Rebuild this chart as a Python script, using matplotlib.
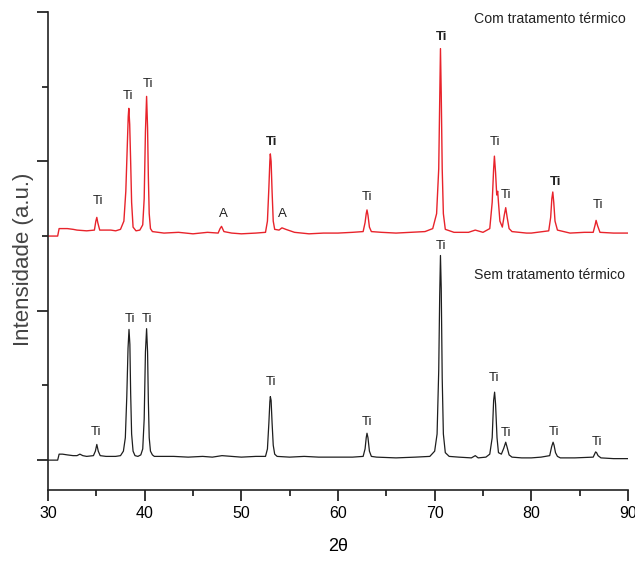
import matplotlib
matplotlib.use("Agg")
import matplotlib.pyplot as plt
from matplotlib.ticker import MultipleLocator

plt.rcParams['font.family'] = ['Liberation Sans', 'DejaVu Sans']

# ---- data ----
# untreated sample (black)
sem_x = [30.0, 31.0, 31.15, 31.5, 32.0, 32.6, 33.0, 33.3, 33.6, 34.0, 34.7, 34.9, 35.05, 35.2, 35.4, 36.0,
         37.0, 37.5, 37.8, 38.0, 38.15, 38.28, 38.38, 38.47, 38.55, 38.65, 38.8, 39.0, 39.3, 39.6,
         39.8, 39.95, 40.08, 40.2, 40.3, 40.38, 40.47, 40.6, 40.8, 41.0, 42.0, 43.0, 44.5, 46.0,
         47.0, 48.0, 50.0, 51.5, 52.5, 52.7, 52.85, 52.95, 53.0, 53.08, 53.18, 53.3, 53.45, 53.7,
         55.0, 56.5, 58.0, 60.0, 61.5, 62.6, 62.8, 62.92, 63.0, 63.1, 63.25, 63.45, 64.0, 66.0,
         68.0, 69.5, 70.0, 70.25, 70.42, 70.52, 70.6, 70.68, 70.78, 70.9, 71.1, 71.5, 72.5, 73.8,
         74.2, 74.5, 75.3, 75.7, 75.95, 76.1, 76.2, 76.3, 76.45, 76.6, 76.9, 77.15, 77.35, 77.5,
         77.7, 78.0, 79.0, 80.0, 81.0, 81.9, 82.1, 82.25, 82.35, 82.5, 82.7, 83.0, 84.5, 86.4,
         86.65, 86.75, 86.9, 87.2, 88.5, 90.0]
sem_y = [0.0, 0.0, 0.08, 0.08, 0.07, 0.06, 0.06, 0.08, 0.06, 0.05, 0.06, 0.12, 0.21, 0.12, 0.06, 0.05,
         0.05, 0.06, 0.12, 0.3, 0.85, 1.5, 1.75, 1.55, 0.9, 0.35, 0.12, 0.06, 0.05, 0.07,
         0.15, 0.55, 1.45, 1.76, 1.45, 0.8, 0.3, 0.12, 0.07, 0.05, 0.05, 0.05, 0.04, 0.05,
         0.04, 0.06, 0.04, 0.05, 0.05, 0.15, 0.5, 0.78, 0.85, 0.8, 0.5, 0.2, 0.08, 0.05,
         0.04, 0.05, 0.04, 0.04, 0.04, 0.05, 0.15, 0.3, 0.36, 0.3, 0.12, 0.05, 0.04, 0.03,
         0.04, 0.05, 0.12, 0.35, 1.2, 2.2, 2.74, 2.3, 1.1, 0.35, 0.1, 0.05, 0.04, 0.03,
         0.06, 0.03, 0.04, 0.08, 0.3, 0.8, 0.91, 0.75, 0.3, 0.1, 0.08, 0.16, 0.24, 0.17,
         0.07, 0.04, 0.03, 0.03, 0.04, 0.06, 0.18, 0.24, 0.2, 0.1, 0.05, 0.03, 0.03, 0.04,
         0.11, 0.1, 0.06, 0.03, 0.02, 0.02]

# heat-treated sample (red)
com_x = [30.0, 31.0, 31.15, 32.0, 32.6, 33.0, 34.0, 34.8, 34.95, 35.05, 35.15, 35.35, 36.5, 37.0,
         37.5, 37.85, 38.05, 38.2, 38.3, 38.36, 38.45, 38.55, 38.65, 38.8, 39.1, 39.5, 39.8, 39.95,
         40.08, 40.2, 40.3, 40.38, 40.47, 40.6, 40.8, 42.0, 43.5, 45.0, 46.5, 47.6, 47.8, 47.95,
         48.2, 49.0, 50.0, 51.5, 52.5, 52.7, 52.85, 52.95, 53.0, 53.08, 53.18, 53.3, 53.45, 53.9,
         54.2, 54.6, 55.5, 57.0, 58.5, 60.0, 61.5, 62.6, 62.8, 62.92, 63.0, 63.1, 63.25, 63.45,
         64.5, 66.0, 67.5, 69.0, 69.8, 70.2, 70.42, 70.52, 70.6, 70.68, 70.78, 70.9, 71.1, 72.0,
         73.5, 74.2, 75.0, 75.7, 75.95, 76.1, 76.18, 76.3, 76.42, 76.52, 76.6, 76.75, 77.0, 77.2,
         77.35, 77.5, 77.7, 78.0, 79.5, 80.0, 81.8, 82.0, 82.12, 82.22, 82.32, 82.45, 82.7, 84.0,
         85.5, 86.4, 86.6, 86.7, 86.85, 87.1, 88.5, 90.0]
com_y = [3.0, 3.0, 3.1, 3.1, 3.09, 3.08, 3.07, 3.08, 3.2, 3.25, 3.18, 3.08, 3.08, 3.07,
         3.09, 3.2, 3.6, 4.2, 4.6, 4.71, 4.5, 4.0, 3.45, 3.12, 3.07, 3.08, 3.15, 3.5,
         4.4, 4.87, 4.45, 3.8, 3.3, 3.1, 3.06, 3.04, 3.05, 3.03, 3.05, 3.04, 3.1, 3.13,
         3.06, 3.04, 3.03, 3.04, 3.05, 3.2, 3.65, 4.0, 4.10, 4.0, 3.6, 3.2, 3.09, 3.08,
         3.11, 3.09, 3.05, 3.03, 3.04, 3.04, 3.05, 3.06, 3.18, 3.3, 3.35, 3.28, 3.12, 3.06,
         3.05, 3.04, 3.05, 3.06, 3.1, 3.3, 3.9, 4.8, 5.51, 4.9, 3.9, 3.3, 3.09, 3.05,
         3.05, 3.08, 3.05, 3.1, 3.45, 3.9, 4.07, 3.85, 3.55, 3.6, 3.45, 3.2, 3.12, 3.28,
         3.38, 3.25, 3.1, 3.06, 3.04, 3.04, 3.07, 3.25, 3.5, 3.59, 3.45, 3.2, 3.08, 3.04,
         3.05, 3.05, 3.15, 3.21, 3.14, 3.05, 3.04, 3.04]

# peak labels (text, x, y, bold)
com_labels = [("Ti", 35.2, 3.47, False), ("Ti", 38.3, 4.88, False), ("Ti", 40.3, 5.03, False),
              ("A", 48.1, 3.29, False), ("Ti", 53.1, 4.26, True), ("A", 54.2, 3.30, False),
              ("Ti", 63.0, 3.52, False), ("Ti", 70.76, 5.67, True), ("Ti", 76.24, 4.26, False),
              ("Ti", 77.4, 3.55, False), ("Ti", 82.5, 3.73, True), ("Ti", 86.9, 3.41, False)]
sem_labels = [("Ti", 35.0, 0.37, False), ("Ti", 38.5, 1.89, False), ("Ti", 40.2, 1.89, False),
              ("Ti", 53.1, 1.04, False), ("Ti", 63.0, 0.51, False), ("Ti", 70.65, 2.87, False),
              ("Ti", 76.1, 1.10, False), ("Ti", 77.4, 0.36, False), ("Ti", 82.3, 0.37, False),
              ("Ti", 86.8, 0.24, False)]

xticks_major = [30, 40, 50, 60, 70, 80, 90]

fig = plt.figure(figsize=(6.35, 5.61), dpi=100)
ax = fig.add_axes([48/635, 71/561, 580/635, 478/561])

ax.plot(sem_x, sem_y, color='#1e1e1e', lw=0.9)
ax.plot(com_x, com_y, color='#e8232b', lw=1.0)

for t, x, y, b in com_labels:
    ax.text(x, y, t, ha='center', va='center', fontsize=9.5,
            fontweight='bold' if b else 'normal', color='#222222')
for t, x, y, b in sem_labels:
    ax.text(x, y, t, ha='center', va='center', fontsize=9.5,
            fontweight='bold' if b else 'normal', color='#222222')

ax.text(0.865, 0.985, "Com tratamento térmico", transform=ax.transAxes,
        ha='center', va='center', fontsize=10.2, color='#222222')
ax.text(0.865, 0.45, "Sem tratamento térmico", transform=ax.transAxes,
        ha='center', va='center', fontsize=10.2, color='#222222')

ax.set_xlim(30, 90)
ax.set_ylim(-0.4, 6.0)
ax.set_xticks(xticks_major)
ax.xaxis.set_minor_locator(MultipleLocator(5))
ax.yaxis.set_major_locator(MultipleLocator(2))
ax.yaxis.set_minor_locator(MultipleLocator(1))
ax.set_yticklabels([])
ax.tick_params(axis='both', which='major', direction='out', length=8, width=1.1, labelsize=11.5)
ax.tick_params(axis='both', which='minor', direction='out', length=4, width=1.1)
ax.tick_params(axis='y', which='both', labelleft=False)

for s in ['top', 'right']:
    ax.spines[s].set_visible(False)
for s in ['left', 'bottom']:
    ax.spines[s].set_linewidth(1.2)
    ax.spines[s].set_color('#222222')

ax.set_ylabel("Intensidade (a.u.)", fontsize=16, color='#444444')
ax.yaxis.set_label_coords(-0.024, 0.483)
ax.set_xlabel("2θ", fontsize=13, labelpad=12)

fig.savefig("out.png", dpi=100)
